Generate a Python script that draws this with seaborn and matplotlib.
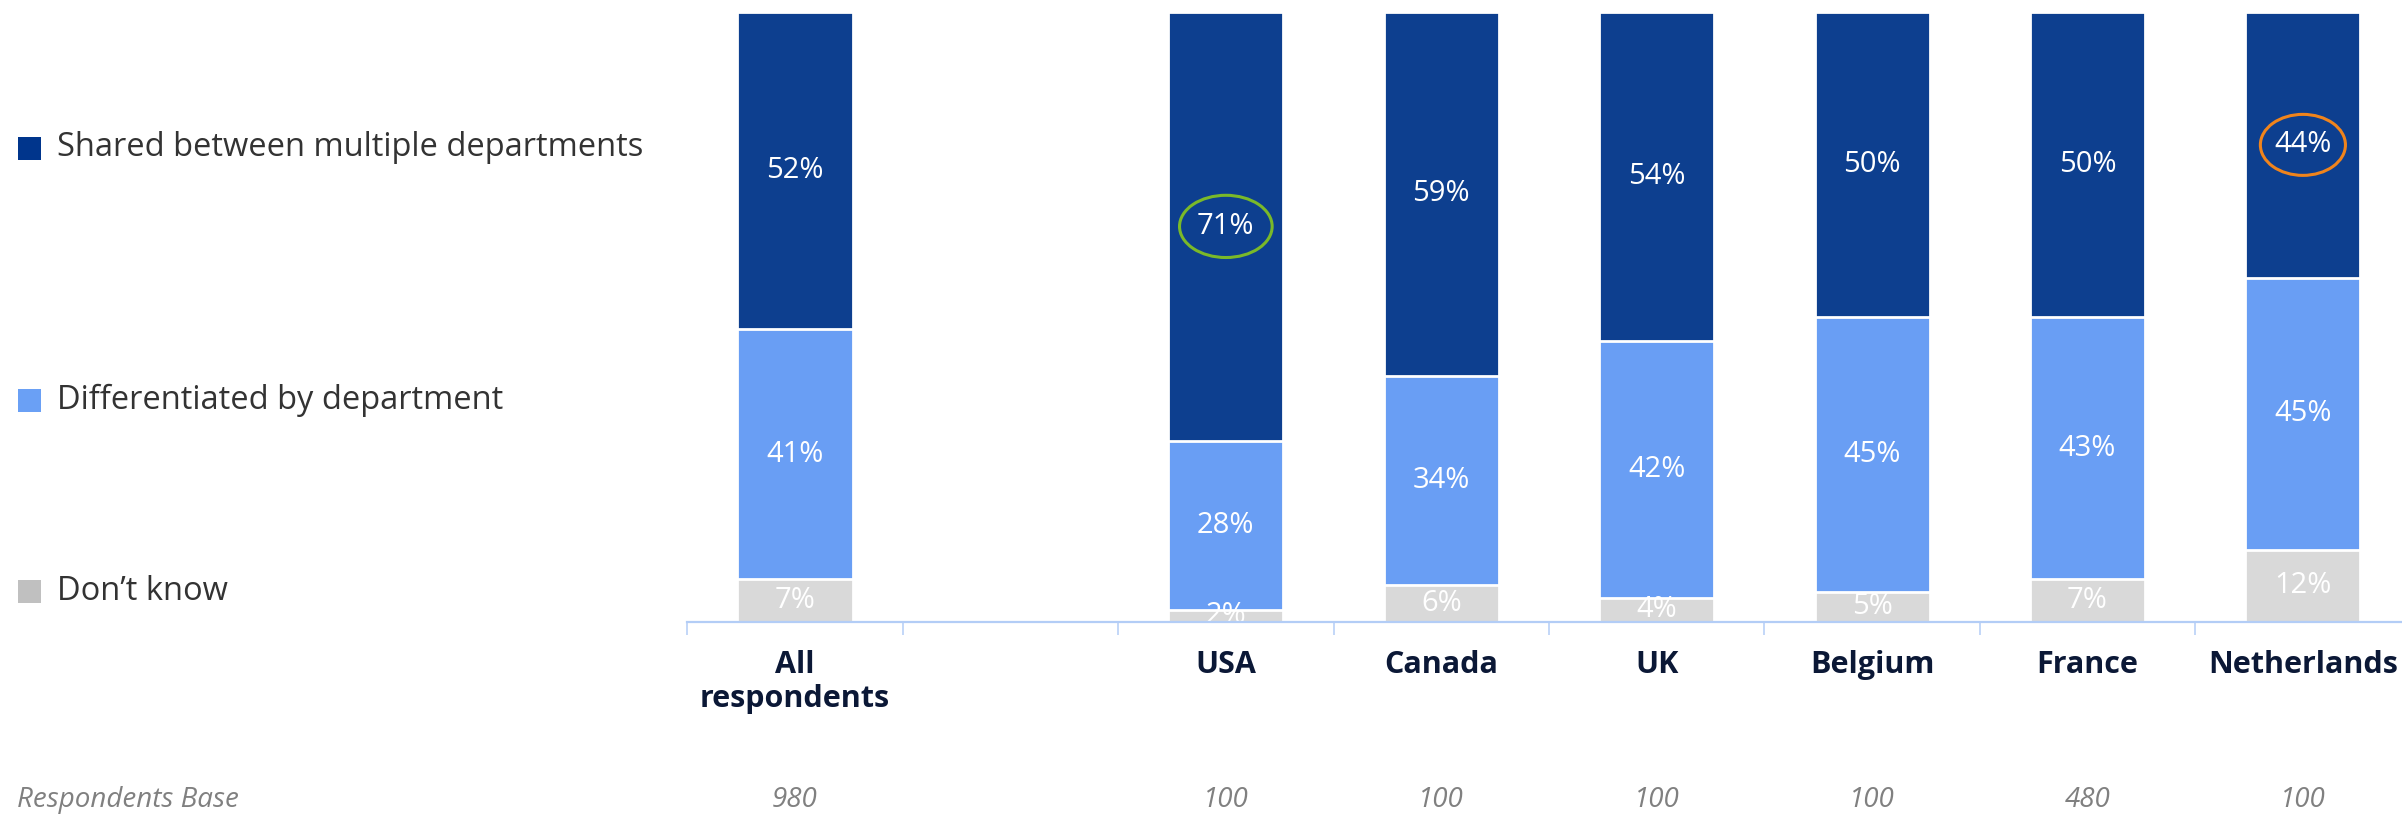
import matplotlib
matplotlib.use("Agg")
import matplotlib.pyplot as plt
from matplotlib.patches import Ellipse, Rectangle
import numpy as np
import pandas as pd
import seaborn as sns

# ---- data -------------------------------------------------------------
categories = ["All\nrespondents", " ", "USA", "Canada", "UK", "Belgium", "France", "Netherlands"]
shared = [52, None, 71, 59, 54, 50, 50, 44]
differentiated = [41, None, 28, 34, 42, 45, 43, 45]
dont_know = [7, None, 2, 6, 4, 5, 7, 12]
respondents_base = ["980", "", "100", "100", "100", "100", "480", "100"]

series_names = ["Shared between multiple departments", "Differentiated by department", "Don\u2019t know"]
bar_colors = ["#0d3f8f", "#699ef4", "#d9d9d9"]
legend_colors = ["#00358c", "#6aa0f5", "#c0c0c0"]

# ---- styling ----------------------------------------------------------
sns.set_theme(style="white")
plt.rcParams["font.family"] = ["Open Sans", "DejaVu Sans"]

W, H = 2402, 815
fig = plt.figure(figsize=(W / 100, H / 100), dpi=100)
ax = fig.add_axes([687.3 / W, (H - 622) / H, 1 - 687.3 / W, (622 - 12) / H])

# 100% stacked shares per bar
rows = []
for cat, s, d, k in zip(categories, shared, differentiated, dont_know):
    if s is None:
        continue
    tot = s + d + k
    rows.append({"cat": cat,
                 "k_top": k / tot * 100,
                 "d_top": (k + d) / tot * 100,
                 "s_top": 100.0,
                 "s": s, "d": d, "k": k})
df = pd.DataFrame(rows)

bw = 0.534
for col, color in zip(["s_top", "d_top", "k_top"], bar_colors):
    sns.barplot(data=df, x="cat", y=col, order=categories, color=color,
                width=bw, edgecolor="white", linewidth=2.0, saturation=1,
                ax=ax, errorbar=None)

ax.set_xlim(-0.5, 7.46)
ax.set_ylim(0, 100)
ax.set_xlabel("")
ax.set_ylabel("")
ax.set_yticks([])

# segment value labels
pos = {c: i for i, c in enumerate(categories)}
for _, r in df.iterrows():
    x = pos[r["cat"]]
    segs = [(r["d_top"], r["s_top"], r["s"]),
            (r["k_top"], r["d_top"], r["d"]),
            (0, r["k_top"], r["k"])]
    for lo, hi, v in segs:
        ax.text(x, (lo + hi) / 2, f"{v}%", ha="center", va="center",
                color="white", fontsize=21, clip_on=True)

# highlight ellipses
usa = df[df["cat"] == "USA"].iloc[0]
nl = df[df["cat"] == "Netherlands"].iloc[0]
ax.add_patch(Ellipse((pos["USA"], (usa["d_top"] + 100) / 2), 0.43, 10.2,
                     fill=False, edgecolor="#7ab929", linewidth=2.2))
ax.add_patch(Ellipse((pos["Netherlands"], (nl["d_top"] + 100) / 2), 0.395, 10.0,
                     fill=False, edgecolor="#f0841c", linewidth=2.2))

# axes frame: only a light blue baseline with boundary ticks
for side in ["top", "left", "right"]:
    ax.spines[side].set_visible(False)
axis_col = "#b3cdf6"
ax.spines["bottom"].set_color(axis_col)
ax.spines["bottom"].set_linewidth(1.6)
ax.spines["bottom"].set_zorder(5)
ax.set_xticks(np.arange(len(categories)))
ax.set_xticklabels(categories, fontsize=22, fontweight="bold", color="#0b1836",
                   linespacing=1.2)
ax.set_xticks(np.arange(-0.5, 7.0, 1.0), minor=True)
ax.tick_params(axis="x", which="major", length=0, pad=20)
ax.tick_params(axis="x", which="minor", length=9.5, width=1.1, color=axis_col,
               direction="out", bottom=True)

# legend on the left
leg_y = [148, 400, 591]
for name, color, y in zip(series_names, legend_colors, leg_y):
    fig.patches.append(Rectangle((18 / W, (H - y - 11.5) / H), 23 / W, 23 / H,
                                 transform=fig.transFigure, facecolor=color,
                                 edgecolor="none"))
    fig.text(57 / W, (H - y) / H, name, ha="left", va="center",
             fontsize=23.5, color="#333333")

# respondents base row
fig.text(17 / W, 1.0 / H, "Respondents Base", ha="left", va="bottom",
         fontsize=20, style="italic", color="#808080")
for i, b in enumerate(respondents_base):
    if b:
        xf = fig.transFigure.inverted().transform(ax.transData.transform((i, 0)))[0]
        fig.text(xf, 1.0 / H, b, ha="center", va="bottom",
                 fontsize=20, style="italic", color="#808080")

fig.savefig("out.png", dpi=100, facecolor="white")
